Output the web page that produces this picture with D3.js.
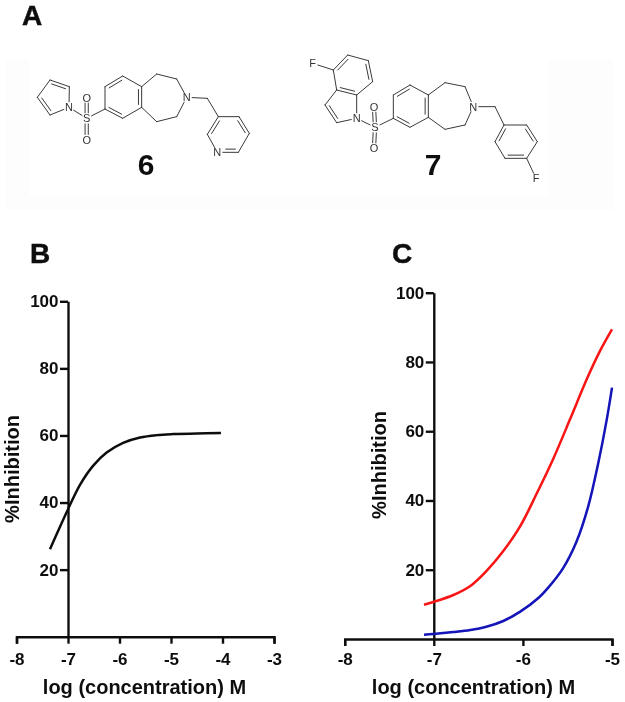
<!DOCTYPE html>
<html><head><meta charset="utf-8">
<script src="https://cdnjs.cloudflare.com/ajax/libs/d3/7.8.5/d3.min.js"></script>
<style>html,body{margin:0;padding:0;background:#fff}svg{display:block}
text{font-family:"Liberation Sans",Arial,sans-serif;fill:#111}</style></head><body>
<script>
// ---- data ----
const yTicks = [20, 40, 60, 80, 100];
const xTicksB = [-8, -7, -6, -5, -4, -3];
const xTicksC = [-8, -7, -6, -5];
const xLabel = "log (concentration) M";
const yLabel = "%Inhibition";
const bX = [-7.35, -7.155, -7.006, -6.77, -6.51, -6.25, -5.93, -5.6, -5.28, -4.95, -4.5, -4.03];
const bY = [26.1, 32.8, 37.8, 45.2, 51.0, 54.9, 57.8, 59.4, 60.1, 60.4, 60.6, 60.7];
const redX = [-7.11, -7.005, -6.78, -6.59, -6.41, -6.22, -6.03, -5.845, -5.66, -5.47, -5.28, -5.13, -5.0];
const redY = [9.9, 10.7, 12.7, 15.3, 19.6, 25.4, 32.6, 42.0, 52.0, 63.5, 75.2, 83.4, 89.4];
const blueX = [-7.11, -7.005, -6.78, -6.59, -6.41, -6.22, -6.03, -5.82, -5.73, -5.55, -5.40, -5.27, -5.155, -5.06, -5.0];
const blueY = [1.25, 1.44, 2.0, 2.6, 3.55, 5.2, 7.9, 12.0, 14.4, 20.4, 28.0, 38.0, 50.7, 63.2, 72.6];

// ---- structure drawings: atoms [x,y] in zoomed px, bonds [a,b,kind] ----
// kind 1: inner parallel line, 2: S=O pair, 3: inner line on the far side of the shortest ring
const mol6Atoms = [[207,322],[208,260],[150,240],[112,292],[150,345],[260,355],[260,293],[260,420],
 [315,327],[315,260],[368,228],[425,260],[425,322],[368,355],[470,222],[530,237],[560,292],[530,350],[470,365],
 [622,295],[655,350],[717,350],[748,400],[715,457],[652,457],[622,403]];
const mol6Bonds = [[0,1],[1,2,1],[2,3],[3,4,1],[4,0],[0,5],[5,6,2],[5,7,2],[5,8],
 [8,9],[9,10,1],[10,11],[11,12,1],[12,13],[13,8,1],[11,14],[14,15],[15,16],[16,17],[17,18],[18,12],
 [16,19],[19,20],[20,21],[21,22,1],[22,23],[23,24,1],[24,25],[25,20,1]];
const mol6Labels = [[0,"N"],[5,"S"],[6,"O"],[7,"O"],[16,"N"],[24,"N"]];
const mol7Atoms = [[38,70],[100,90],[143,45],[205,62],[218,125],[170,165],[110,150],[75,195],[110,248],[170,235],
 [225,262],[222,200],[222,325],[280,235],[280,165],[330,135],[385,165],[385,232],[330,262],
 [435,128],[495,140],[520,200],[495,255],[435,268],[585,200],[612,255],[680,255],[712,305],[680,355],[615,355],[585,305],[708,415]];
const mol7Bonds = [[0,1],[1,2,1],[2,3],[3,4,1],[4,5],[5,6,3],[6,1],[6,7],[7,8,1],[8,9],[9,5],[9,10],[10,11,2],[10,12,2],[10,13],
 [13,14],[14,15,1],[15,16],[16,17,1],[17,18],[18,13,1],[16,19],[19,20],[20,21],[21,22],[22,23],[23,17],
 [21,24],[24,25],[25,26],[26,27,1],[27,28],[28,29,1],[29,30],[30,25,1],[28,31]];
const mol7Labels = [[0,"F"],[9,"N"],[10,"S"],[11,"O"],[12,"O"],[21,"N"],[31,"F"]];

// ---- layout ----
const svg = d3.select("body").append("svg").attr("width",625).attr("height",702);
const defs = svg.append("defs");
defs.append("filter").attr("id","soft").append("feGaussianBlur").attr("stdDeviation",0.35);
const root = svg.append("g").attr("filter","url(#soft)");

root.append("rect").attr("x",5).attr("y",60).attr("width",608).attr("height",150).attr("fill","#fdfdfd");
root.append("rect").attr("x",29).attr("y",60).attr("width",519).attr("height",136).attr("fill","#fff");

function panelLetter(t,x,y){root.append("text").attr("x",x).attr("y",y).attr("font-size",28).attr("font-weight",700).style("stroke","#111").style("stroke-width",0.5).text(t);}
panelLetter("A",22,25); panelLetter("B",30,263); panelLetter("C",392,263);

function molecule(atoms,bonds,labels,ox,oy,num,nx,ny){
  const g = root.append("g");
  const P = a => [ox+atoms[a][0]/3, oy+atoms[a][1]/3];
  const lab = new Map(labels.map(d=>[d[0],d[1]]));
  bonds.forEach(([a,b,d])=>{
    let [x1,y1]=P(a),[x2,y2]=P(b);
    const L=Math.hypot(x2-x1,y2-y1),ux=(x2-x1)/L,uy=(y2-y1)/L;
    const t1=lab.has(a)?5.5:0,t2=lab.has(b)?5.5:0;
    x1+=ux*t1;y1+=uy*t1;x2-=ux*t2;y2-=uy*t2;
    const seg=(p,q,r,s)=>g.append("line").attr("x1",p).attr("y1",q).attr("x2",r).attr("y2",s).attr("stroke","#3a3a3a").attr("stroke-width",1).attr("stroke-linecap","round");
    if(d===2){ seg(x1-uy*1.6,y1+ux*1.6,x2-uy*1.6,y2+ux*1.6); seg(x1+uy*1.6,y1-ux*1.6,x2+uy*1.6,y2-ux*1.6); return; }
    seg(x1,y1,x2,y2);
    if(d){
      const ringC = ringCentre(atoms,bonds,a,b,ox,oy);
      let nx_=-uy,ny_=ux; const mxb=(x1+x2)/2,myb=(y1+y2)/2;
      if((ringC[0]-mxb)*nx_+(ringC[1]-myb)*ny_<0){nx_=-nx_;ny_=-ny_;}
      if(d===3){nx_=-nx_;ny_=-ny_;}
      const o=3.2,tr=0.14*L;
      seg(x1+nx_*o+ux*tr,y1+ny_*o+uy*tr,x2+nx_*o-ux*tr,y2+ny_*o-uy*tr);
    }
  });
  labels.forEach(([a,t])=>{
    const [x,y]=P(a);
    g.append("text").attr("x",x).attr("y",y+4).attr("text-anchor","middle").attr("font-size",11).style("fill","#333").text(t);
  });
  root.append("text").attr("x",nx).attr("y",ny).attr("text-anchor","middle").attr("font-size",30).attr("font-weight",700).text(num);
}
// centre of the smallest cycle holding a given bond
function ringCentre(atoms,bonds,a,b,ox,oy){
  const adj=new Map();
  bonds.forEach(([p,q])=>{(adj.get(p)||adj.set(p,[]).get(p)).push(q);(adj.get(q)||adj.set(q,[]).get(q)).push(p);});
  const prev=new Map([[a,-1]]),queue=[a];
  while(queue.length){const n=queue.shift();
    for(const m of adj.get(n)){ if(n===a&&m===b) continue; if(!prev.has(m)){prev.set(m,n);queue.push(m);} }}
  const path=[];let c=b;while(c!==-1&&c!==undefined){path.push(c);c=prev.get(c);}
  return [ox+d3.mean(path,i=>atoms[i][0])/3, oy+d3.mean(path,i=>atoms[i][1])/3];
}
molecule(mol6Atoms,mol6Bonds,mol6Labels,0,0,"6",146,175);
molecule(mol7Atoms,mol7Bonds,mol7Labels,300,40,"7",433,175);

function panel(o){
  const x=d3.scaleLinear().domain(o.xDomain).range(o.xRange);
  const y=d3.scaleLinear().domain([0,100]).range(o.yRange);
  const g=root.append("g");
  const style=(ax,fs)=>{ax.selectAll("text").attr("font-size",fs).attr("font-weight",700).style("fill","#111");
    ax.selectAll("line,path").attr("stroke","#111").attr("stroke-width",2.4);};
  const ax=g.append("g").attr("transform",`translate(0,${y(0)})`)
    .call(d3.axisBottom(x).tickValues(o.xTicks).tickFormat(d=>String(d)).tickSize(7).tickSizeOuter(7).tickPadding(o.pad));
  style(ax,17);
  const ay=g.append("g").attr("transform",`translate(${x(-7)},0)`)
    .call(d3.axisLeft(y).tickValues(yTicks).tickSize(8).tickSizeOuter(0).tickPadding(1.5));
  style(ay,17);
  o.series.forEach(s=>{
    g.append("path").datum(s.ys).attr("fill","none").attr("stroke",s.color).attr("stroke-width",2.5)
     .attr("d",d3.line().x((d,i)=>x(s.xs[i])).y(d=>y(d)).curve(d3.curveCatmullRom.alpha(0.5)));
  });
  g.append("text").attr("x",o.xlx).attr("y",o.xly).attr("text-anchor","middle").attr("font-size",20).attr("font-weight",700).text(xLabel);
  g.append("text").attr("transform",`translate(${o.ylx},${o.yly}) rotate(-90)`).attr("text-anchor","middle").attr("font-size",20).attr("font-weight",700).text(yLabel);
}
panel({xDomain:[-8,-3],xRange:[16.5,274],yRange:[636.7,301.3],xTicks:xTicksB,pad:9,
  series:[{xs:bX,ys:bY,color:"#111"}],xlx:144.5,xly:694,ylx:19,yly:469});
panel({xDomain:[-8,-5],xRange:[344.7,612],yRange:[639,292.7],xTicks:xTicksC,pad:7,
  series:[{xs:redX,ys:redY,color:"#f81212"},{xs:blueX,ys:blueY,color:"#1212b8"}],xlx:473.5,xly:694,ylx:386,yly:465});
</script></body></html>
